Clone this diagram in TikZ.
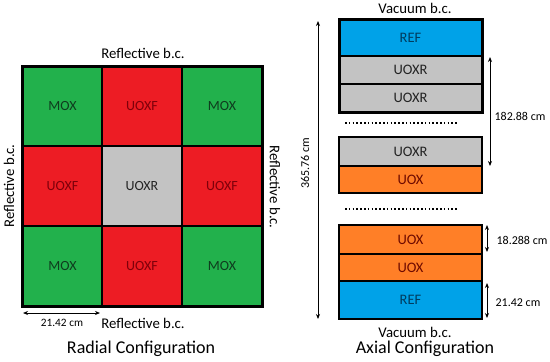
\documentclass[tikz,border=0pt]{standalone}
\usepackage{fontspec}
\setmainfont{Carlito}
\usetikzlibrary{arrows.meta}
\definecolor{cgreen}{RGB}{34,177,76}
\definecolor{cred}{RGB}{237,28,36}
\definecolor{cgray}{RGB}{195,195,195}
\definecolor{cblue}{RGB}{0,162,232}
\definecolor{corange}{RGB}{255,127,39}
\definecolor{tgreen}{RGB}{15,60,30}
\definecolor{tred}{RGB}{125,0,10}
\definecolor{tblue}{RGB}{0,60,95}
\definecolor{tgray}{RGB}{35,35,35}
\definecolor{tbrown}{RGB}{110,10,0}
\begin{document}
\begin{tikzpicture}[x=1pt,y=-1pt,
  cell/.style={draw=black,line width=2.5pt,minimum width=80pt,minimum height=80pt,inner sep=0pt,outer sep=0pt,font=\fontsize{14}{16}\selectfont},
  mox/.style={cell,fill=cgreen,text=tgreen},
  uoxf/.style={cell,fill=cred,text=tred},
  uoxr/.style={cell,fill=cgray,text=tgray},
  layer/.style={draw=black,line width=2.5pt,minimum width=143pt,inner sep=0pt,outer sep=0pt,font=\fontsize{14.5}{16}\selectfont},
  lbc/.style={font=\fontsize{14.8}{17}\selectfont},
  ttl/.style={font=\fontsize{18}{21}\selectfont},
  dimlab/.style={font=\fontsize{12}{14}\selectfont},
  dim/.style={line width=0.9pt,{Stealth[length=5pt,width=4pt]}-{Stealth[length=5pt,width=4pt]}},
  dotline/.style={line width=1.6pt,dash pattern=on 1.6pt off 2.2pt}
]
\useasboundingbox (0,0) rectangle (550,362);
% Radial
\node[mox]  (c11) at (62.5,106.5) {MOX};
\node[uoxf] (c12) at (142,106.5) {UOXF};
\node[mox]  (c13) at (222,106.5) {MOX};
\node[uoxf] (c21) at (62.5,186) {UOXF};
\node[uoxr] (c22) at (142,186) {UOXR};
\node[uoxf] (c23) at (222,186) {UOXF};
\node[mox]  (c31) at (62.5,266) {MOX};
\node[uoxf] (c32) at (142,266) {UOXF};
\node[mox]  (c33) at (222,266) {MOX};
\draw[line width=3pt] (c11.north west) rectangle (c33.south east);
\node[lbc] (rt) at (143,53) {Reflective b.c.};
\node[lbc] (rb) at (143,323) {Reflective b.c.};
\node[lbc,rotate=90] (rl) at (9,186) {Reflective b.c.};
\node[lbc,rotate=-90] (rr) at (275,187) {Reflective b.c.};
\coordinate (da) at (23,313);
\coordinate (db) at (100,313);
\draw[dim] (da) -- (db);
\node[font=\fontsize{11.3}{13}\selectfont] (dl) at (62,323) {21.42 cm};
\node[ttl] (t1) at (141,349) {Radial Configuration};
% Axial
\node[layer,fill=cblue,text=tblue,minimum height=37pt] (a1) at (410.5,37.5) {REF};
\node[layer,fill=cgray,text=tgray,minimum height=28pt] (a2) at (410.5,70) {UOXR};
\node[layer,fill=cgray,text=tgray,minimum height=28pt] (a3) at (410.5,98) {UOXR};
\draw[line width=3pt] (a1.north west) rectangle (a3.south east);
\node[layer,fill=cgray,text=tgray,minimum height=29pt] (a4) at (410.5,151.5) {UOXR};
\node[layer,fill=corange,text=tbrown,minimum height=27pt] (a5) at (410.5,179.5) {UOX};
\node[layer,fill=corange,text=tbrown,minimum height=29pt] (a6) at (410.5,239.5) {UOX};
\node[layer,fill=corange,text=tbrown,minimum height=27pt] (a7) at (410.5,267.5) {UOX};
\node[layer,fill=cblue,text=tblue,minimum height=38pt] (a8) at (410.5,300) {REF};
\coordinate (d1a) at (345,123);
\coordinate (d1b) at (457,123);
\coordinate (d2a) at (345,209);
\coordinate (d2b) at (457,209);
\draw[dotline] (d1a) -- (d1b);
\draw[dotline] (d2a) -- (d2b);
\node[lbc] (vt) at (415,8) {Vacuum b.c.};
\node[lbc] (vb) at (415,332) {Vacuum b.c.};
\node[ttl] (t2) at (425,349) {Axial Configuration};
\coordinate (h1) at (318,21);
\coordinate (h2) at (318,319);
\draw[dim] (h1) -- (h2);
\node[dimlab,rotate=90] (hl) at (305,163) {365.76 cm};
\coordinate (r1a) at (490,57);
\coordinate (r1b) at (490,166);
\draw[dim] (r1a) -- (r1b);
\node[dimlab] (r1l) at (520,116) {182.88 cm};
\coordinate (r2a) at (487,225);
\coordinate (r2b) at (487,252);
\draw[dim] (r2a) -- (r2b);
\node[dimlab] (r2l) at (522,240) {18.288 cm};
\coordinate (r3a) at (487,283);
\coordinate (r3b) at (487,318);
\draw[dim] (r3a) -- (r3b);
\node[dimlab] (r3l) at (518,303) {21.42 cm};
\end{tikzpicture}
\end{document}
